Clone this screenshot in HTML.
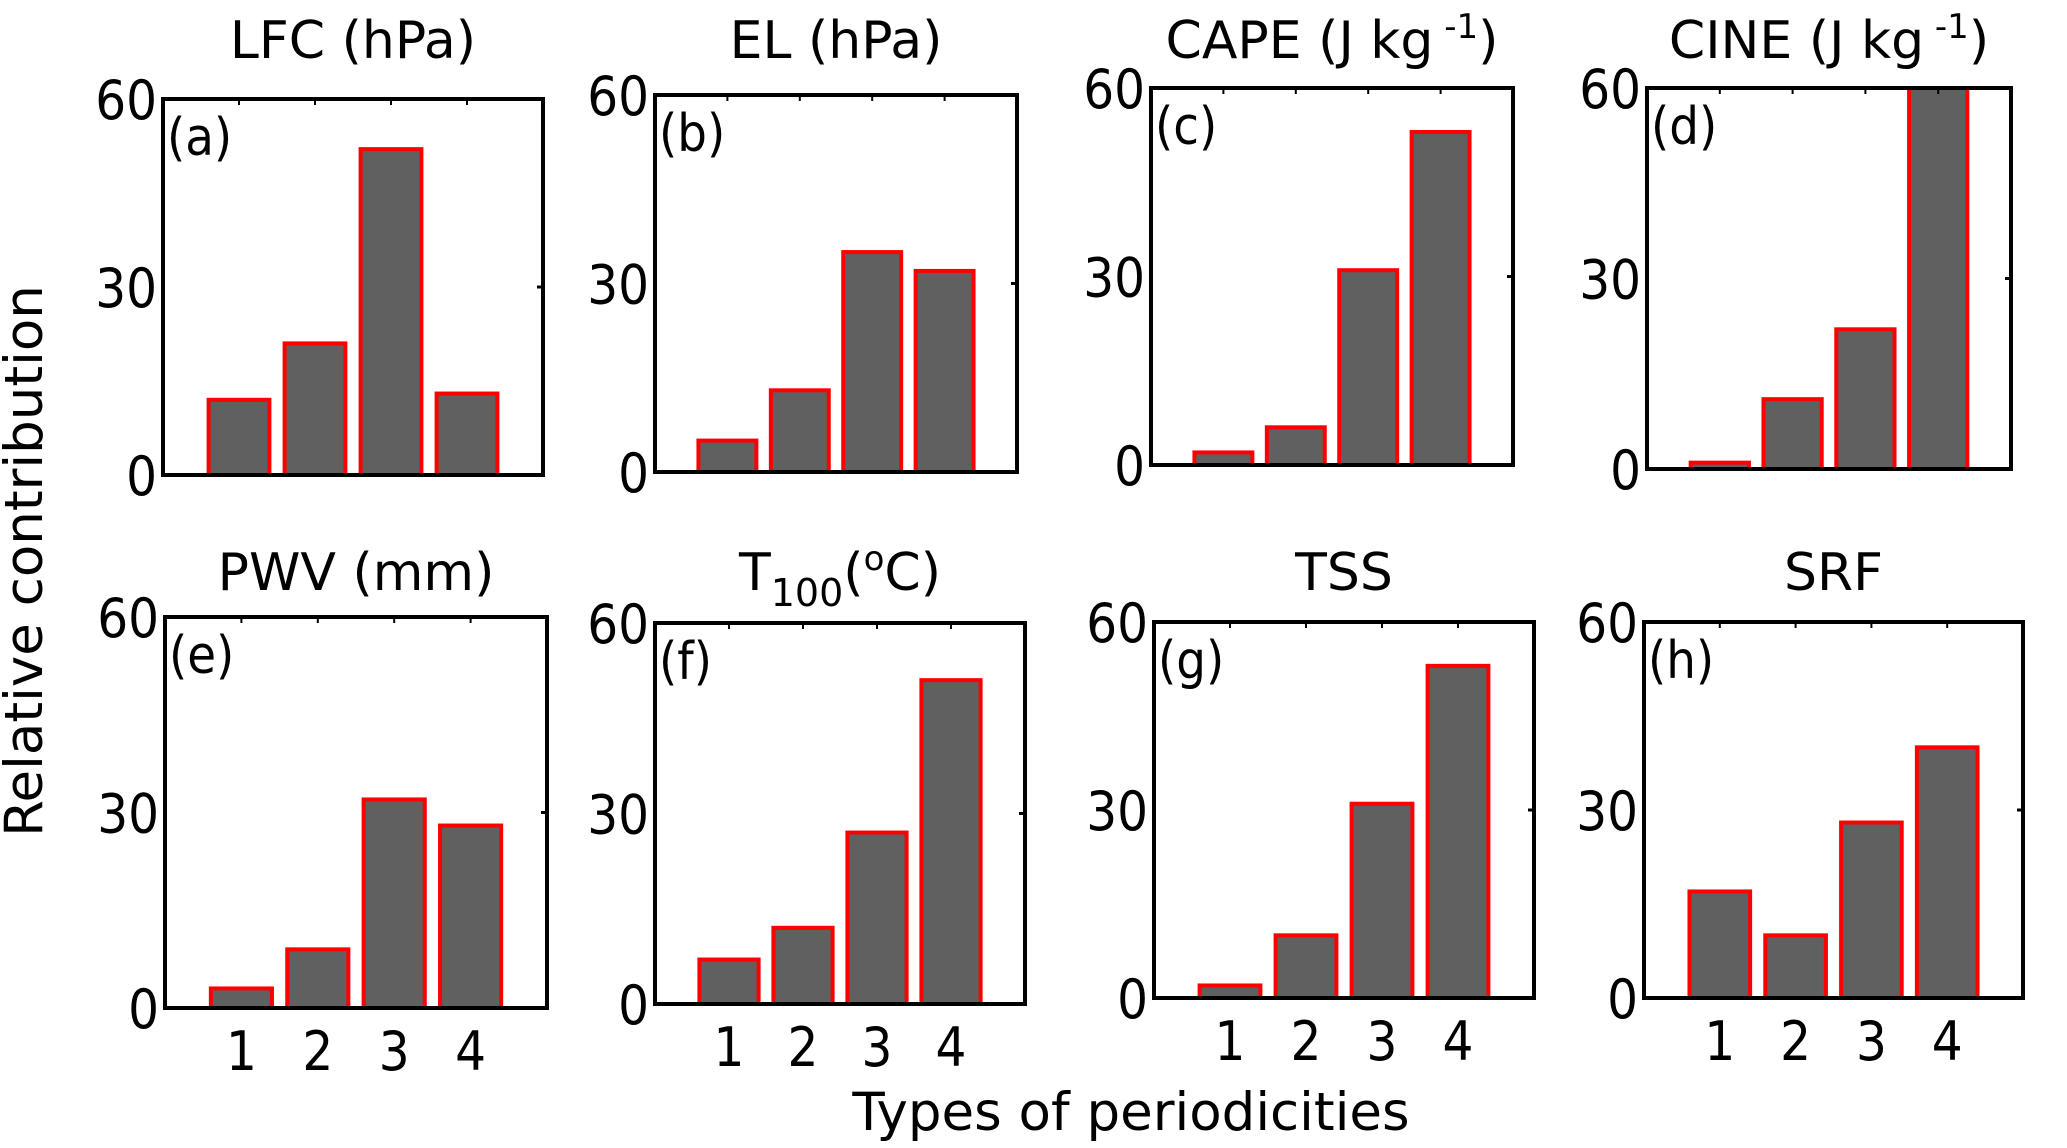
<!DOCTYPE html>
<html><head><meta charset="utf-8"><style>
html,body{margin:0;padding:0;background:#fff;}
svg{display:block;font-family:"DejaVu Sans","Liberation Sans",sans-serif;}
.c{font-family:"DejaVu Sans Condensed","DejaVu Sans","Liberation Sans",sans-serif;}
</style></head><body>
<svg id="fig" width="2067" height="1148" viewBox="0 0 2067 1148">
<text x="1131" y="1130" font-size="53" text-anchor="middle">Types of periodicities</text>
<text transform="translate(42,561) rotate(-90)" font-size="53" text-anchor="middle">Relative contribution</text>
</svg>
<script>
const categories = [1, 2, 3, 4];
const yTicks = [0, 30, 60];
const panelLetters = ["(a)","(b)","(c)","(d)","(e)","(f)","(g)","(h)"];
const valsA = [12, 21, 52, 13];
const valsB = [5, 13, 35, 32];
const valsC = [2, 6, 31, 53];
const valsD = [1, 11, 22, 60];
const valsE = [3, 9, 32, 28];
const valsF = [7, 12, 27, 51];
const valsG = [2, 10, 31, 53];
const valsH = [17, 10, 28, 40];
const series = [valsA, valsB, valsC, valsD, valsE, valsF, valsG, valsH];
const titles = [
 'LFC (hPa)', 'EL (hPa)', 'CAPE (J  kg<tspan dy="-20" font-size="34"> -1</tspan><tspan dy="20">)</tspan>',
 'CINE (J  kg<tspan dy="-20" font-size="34"> -1</tspan><tspan dy="20">)</tspan>',
 'PWV (mm)', 'T<tspan dy="16" font-size="38">100</tspan><tspan dy="-16">(</tspan><tspan dy="-20" font-size="34">o</tspan><tspan dy="20">C)</tspan>', 'TSS', 'SRF'];
const boxes = [
 [163,99,380,376],[655,95,362,377],[1151,88,362,377],[1647,88,364,381],
 [165,617,382,391],[655,623,370,381],[1154,622,380,376],[1644,622,379,376]];
const NS = "http://www.w3.org/2000/svg";
const svg = document.getElementById('fig');
function mk(tag, attrs, parent){const e=document.createElementNS(NS,tag);for(const k in attrs)e.setAttribute(k,attrs[k]);(parent||svg).appendChild(e);return e;}
boxes.forEach((b,i)=>{
 const [L,T,W,H]=b;
 const g=mk('g',{});
 
 
 const xs=v=>L+W*(v/5);
 const ys=v=>T+H-H*(v/60);
 const vals=series[i];
 categories.forEach((c,j)=>{
  const v=vals[j];
  const r=mk('rect',{x:xs(c-0.4),y:ys(v),width:xs(c+0.4)-xs(c-0.4),height:ys(0)-ys(v),fill:'#606060',stroke:'#ff0000','stroke-width':4},g);
  
  
  mk('line',{x1:xs(c),x2:xs(c),y1:T,y2:T+6,stroke:'#000','stroke-width':2},g);
  if(i>=4){
   const t=mk('text',{x:xs(c),y:T+H+62,'font-size':54,'text-anchor':'middle','class':'c'},g);
   t.textContent=c;
   
   
  }
 });
 mk('rect',{x:L,y:T,width:W,height:H,fill:'none',stroke:'#000','stroke-width':4},g);
 yTicks.forEach(v=>{
  const t=mk('text',{x:L-6,y:ys(v)+20,'font-size':54,'text-anchor':'end','class':'c'},g);
  t.textContent=v;
  
  
  mk('line',{x1:W+L-6,x2:W+L,y1:ys(v),y2:ys(v),stroke:'#000','stroke-width':3},g);
 });
 const lt=mk('text',{x:L+4,y:T+56,'font-size':52,'class':'c'},g);
 lt.textContent=panelLetters[i];
 
 
 const tt=mk('text',{x:L+W/2,y:i<4?58:590,'font-size':52,'text-anchor':'middle'},g);
 tt.innerHTML=titles[i];
 
 
});
</script>
</body></html>
